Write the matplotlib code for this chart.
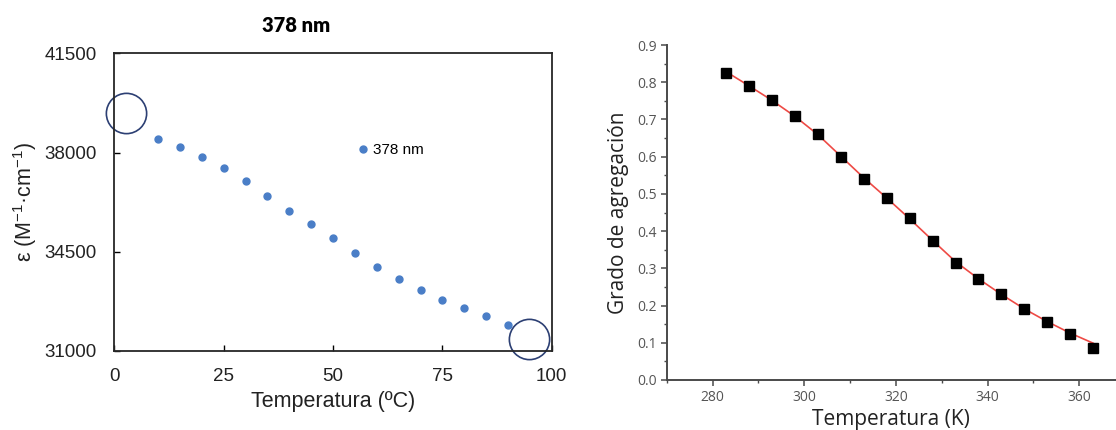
import matplotlib.pyplot as plt
from matplotlib.ticker import MultipleLocator, FormatStrFormatter

plt.rcParams['mathtext.fontset'] = 'custom'
plt.rcParams['mathtext.rm'] = 'Liberation Sans'

# absorptividad molar a 378 nm frente a la temperatura
temp_c = [10, 15, 20, 25, 30, 35, 40, 45, 50, 55, 60, 65, 70, 75, 80, 85, 90]
epsilon = [38480, 38190, 37840, 37460, 37010, 36470, 35920, 35480, 34980,
           34440, 33940, 33540, 33150, 32800, 32520, 32220, 31920]
# puntos marcados con un circulo
marca_x = [2.6, 94.7]
marca_y = [39390, 31420]

# grado de agregacion frente a la temperatura (K) y su ajuste
temp_k = [283, 288, 293, 298, 303, 308, 313, 318, 323, 328, 333, 338, 343,
          348, 353, 358, 363]
alfa = [0.826, 0.791, 0.751, 0.708, 0.661, 0.599, 0.540, 0.489, 0.434,
        0.374, 0.315, 0.272, 0.230, 0.190, 0.156, 0.123, 0.087]
alfa_ajuste = [0.828, 0.790, 0.751, 0.708, 0.659, 0.601, 0.543, 0.489, 0.433,
               0.375, 0.318, 0.272, 0.230, 0.191, 0.157, 0.126, 0.099]

fig = plt.figure(figsize=(11.16, 4.3), dpi=100)

# ---- panel izquierdo ----
ax1 = fig.add_axes([0.1024, 0.1844, 0.392, 0.6912])
ax1.plot(temp_c, epsilon, 'o', color='#4a7ec7', ms=5, label='378 nm')
ax1.plot(marca_x, marca_y, 'o', ms=29, mfc='none', mec='#2c3f73', mew=1.2,
         clip_on=False)
ax1.set_xlim(0, 100)
ax1.set_ylim(31000, 41500)
ax1.set_xticks([0, 25, 50, 75, 100])
ax1.set_yticks([31000, 34500, 38000, 41500])
for s in ax1.spines.values():
    s.set_linewidth(1.3)
    s.set_color('#262626')
ax1.tick_params(direction='in', length=4, width=1, labelsize=13.5,
                labelcolor='#222222', pad=12.5)
for lab in ax1.get_xticklabels() + ax1.get_yticklabels():
    lab.set_family('Liberation Sans')
ax1.set_xlabel('Temperatura (ºC)', family='Liberation Sans', fontsize=15.5,
               color='#222222', labelpad=4)
ax1.set_ylabel(r'ε (M$\mathregular{^{-1}}$·cm$\mathregular{^{-1}}$)',
               family='Liberation Sans', fontsize=15.5, color='#222222',
               labelpad=4)
ax1.legend(loc='center left', bbox_to_anchor=(0.554, 0.675), frameon=False,
           borderpad=0, borderaxespad=0, handlelength=0.8, handletextpad=0.25,
           prop={'family': 'Liberation Sans', 'size': 11})
fig.text(0.265, 0.94, '378 nm', family='Lato', weight='heavy', fontsize=14.5,
         ha='center', va='center')

# ---- panel derecho ----
ax2 = fig.add_axes([0.5974, 0.1163, 0.4026, 0.779])
ax2.plot(temp_k, alfa_ajuste, '-', color='#ee4a45', lw=1.2, zorder=2)
ax2.plot(temp_k, alfa, 's', color='black', ms=6.5, zorder=3)
ax2.set_xlim(270, 368)
ax2.set_ylim(0, 0.9)
ax2.xaxis.set_major_locator(MultipleLocator(20))
ax2.xaxis.set_minor_locator(MultipleLocator(10))
ax2.yaxis.set_major_locator(MultipleLocator(0.1))
ax2.yaxis.set_minor_locator(MultipleLocator(0.05))
ax2.yaxis.set_major_formatter(FormatStrFormatter('%.1f'))
ax2.spines['top'].set_visible(False)
ax2.spines['right'].set_visible(False)
for side in ['left', 'bottom']:
    ax2.spines[side].set_linewidth(1.4)
    ax2.spines[side].set_color('#4a4a4a')
ax2.tick_params(which='major', direction='out', length=4.5, width=1.1,
                color='#4a4a4a', labelsize=10, labelcolor='#555555', pad=2.5)
ax2.tick_params(which='minor', direction='out', length=2.5, width=1,
                color='#4a4a4a')
for lab in ax2.get_xticklabels() + ax2.get_yticklabels():
    lab.set_family('Open Sans')
ax2.set_xlabel('Temperatura (K)', family='Open Sans', fontsize=15,
               color='#222222', labelpad=3)
ax2.set_ylabel('Grado de agregación', family='Open Sans', fontsize=15,
               color='#222222', labelpad=6)

fig.savefig('out.png', dpi=100, facecolor='white')
